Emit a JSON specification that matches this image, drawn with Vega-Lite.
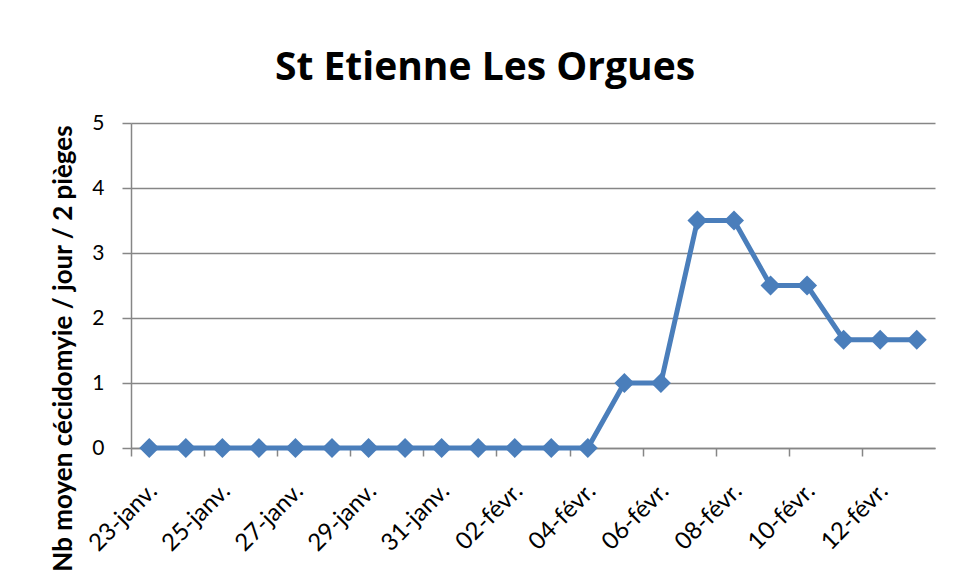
{
  "$schema": "https://vega.github.io/schema/vega-lite/v6.json",
  "width": 804,
  "height": 325,
  "autosize": {"type": "none"},
  "padding": {"left": 131, "top": 123, "right": 21, "bottom": 132},
  "background": "white",
  "title": {
    "text": "St Etienne Les Orgues",
    "font": "Open Sans",
    "fontSize": 39,
    "fontWeight": "bold",
    "color": "#000000",
    "anchor": "middle",
    "baseline": "alphabetic",
    "offset": 43,
    "dx": -48,
    "dy": 50
  },
  "data": {
    "values": [
      {"date": "23-janv.", "value": 0},
      {"date": "24-janv.", "value": 0},
      {"date": "25-janv.", "value": 0},
      {"date": "26-janv.", "value": 0},
      {"date": "27-janv.", "value": 0},
      {"date": "28-janv.", "value": 0},
      {"date": "29-janv.", "value": 0},
      {"date": "30-janv.", "value": 0},
      {"date": "31-janv.", "value": 0},
      {"date": "01-févr.", "value": 0},
      {"date": "02-févr.", "value": 0},
      {"date": "03-févr.", "value": 0},
      {"date": "04-févr.", "value": 0},
      {"date": "05-févr.", "value": 1},
      {"date": "06-févr.", "value": 1},
      {"date": "07-févr.", "value": 3.5},
      {"date": "08-févr.", "value": 3.5},
      {"date": "09-févr.", "value": 2.5},
      {"date": "10-févr.", "value": 2.5},
      {"date": "11-févr.", "value": 1.667},
      {"date": "12-févr.", "value": 1.667},
      {"date": "13-févr.", "value": 1.667}
    ]
  },
  "mark": {
    "type": "line",
    "color": "#4a7ebb",
    "strokeWidth": 5,
    "point": {"shape": "diamond", "size": 400, "filled": true, "color": "#4a7ebb", "opacity": 1}
  },
  "encoding": {
    "x": {
      "field": "date",
      "type": "ordinal",
      "sort": null,
      "scale": {"type": "point", "padding": 0.5},
      "axis": {
        "title": null,
        "values": ["23-janv.", "25-janv.", "27-janv.", "29-janv.", "31-janv.", "02-févr.", "04-févr.", "06-févr.", "08-févr.", "10-févr.", "12-févr."],
        "tickOffset": -18.27,
        "labelOffset": 22,
        "labelAngle": -45,
        "labelAlign": "right",
        "labelBaseline": "middle",
        "labelPadding": 31,
        "tickSize": 8,
        "tickWidth": 1.5,
        "tickColor": "#868686",
        "domainColor": "#868686",
        "domainWidth": 1.5,
        "grid": false,
        "labelFont": "Lato",
        "labelFontSize": 24,
        "labelColor": "#000000"
      }
    },
    "y": {
      "field": "value",
      "type": "quantitative",
      "scale": {"domain": [0, 5], "nice": false},
      "axis": {
        "title": "Nb moyen cécidomyie  / jour / 2 pièges",
        "values": [0, 1, 2, 3, 4, 5],
        "tickSize": 9,
        "tickWidth": 1.5,
        "labelPadding": 18,
        "grid": true,
        "gridColor": "#868686",
        "gridWidth": 1.5,
        "domainColor": "#868686",
        "domainWidth": 1.5,
        "tickColor": "#868686",
        "labelFont": "Lato",
        "labelFontSize": 21,
        "labelColor": "#000000",
        "titleFont": "Lato",
        "titleFontSize": 26,
        "titleFontWeight": "bold",
        "titleColor": "#000000",
        "titleX": -68,
        "titleY": 225,
        "titleAngle": -90,
        "titleAlign": "center",
        "titleBaseline": "middle"
      }
    }
  },
  "config": {"view": {"stroke": null}}
}
